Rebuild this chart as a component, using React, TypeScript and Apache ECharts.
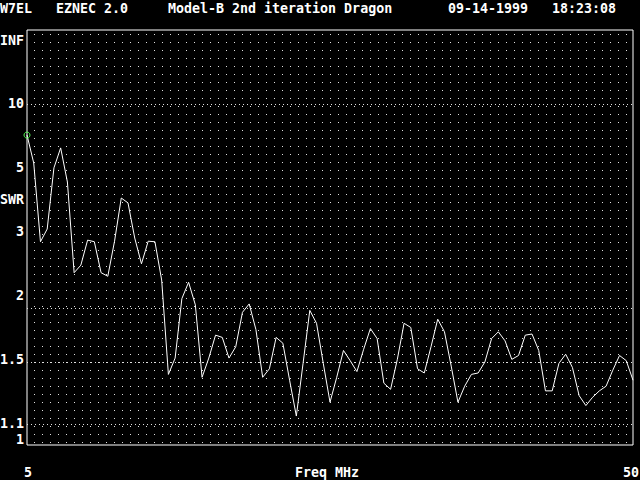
import React, { useEffect, useRef } from "react";
import * as echarts from "echarts";

// Frequency samples (MHz)
const freqs = [
  5, 5.5, 6, 6.5, 7, 7.5, 8, 8.5, 9, 9.5,
  10, 10.5, 11, 11.5, 12, 12.5, 13, 13.5, 14, 14.5,
  15, 15.5, 16, 16.5, 17, 17.5, 18, 18.5, 19, 19.5,
  20, 20.5, 21, 21.5, 22, 22.5, 23, 23.5, 24, 24.5,
  25, 25.5, 26, 26.5, 27, 27.5, 28, 28.5, 29, 29.5,
  30, 30.5, 31, 31.5, 32, 32.5, 33, 33.5, 34, 34.5,
  35, 35.5, 36, 36.5, 37, 37.5, 38, 38.5, 39, 39.5,
  40, 40.5, 41, 41.5, 42, 42.5, 43, 43.5, 44, 44.5,
  45, 45.5, 46, 46.5, 47, 47.5, 48, 48.5, 49, 49.5,
  50,
];

// SWR
const swr = [
  6.90, 5.24, 2.92, 3.17, 5.02, 6.04, 4.46, 2.42, 2.53, 2.95,
  2.92, 2.42, 2.37, 2.93, 3.94, 3.80, 2.99, 2.55, 2.93, 2.92,
  2.32, 1.41, 1.53, 2.09, 2.29, 2.02, 1.39, 1.53, 1.72, 1.70,
  1.53, 1.62, 1.94, 2.03, 1.77, 1.39, 1.45, 1.70, 1.65, 1.37,
  1.15, 1.49, 1.96, 1.83, 1.49, 1.23, 1.39, 1.59, 1.51, 1.43,
  1.60, 1.78, 1.69, 1.35, 1.31, 1.52, 1.83, 1.79, 1.45, 1.42,
  1.62, 1.87, 1.75, 1.47, 1.23, 1.33, 1.41, 1.42, 1.50, 1.69,
  1.75, 1.67, 1.52, 1.55, 1.72, 1.73, 1.59, 1.30, 1.30, 1.49,
  1.56, 1.46, 1.27, 1.21, 1.26, 1.30, 1.33, 1.44, 1.55, 1.51,
  1.37,
];

const yTickLabels = ["INF", "10", "5", "3", "2", "1.5", "1.1", "1"];
const emphasisSWR = [10, 2, 1.5, 1.1];
const headerTexts = ["W7EL", "EZNEC 2.0", "Model-B 2nd iteration Dragon", "09-14-1999", "18:23:08"];
const xTickLabels = ["5", "50"];
const xAxisTitle = "Freq MHz";
const yAxisTitle = "SWR";

// SWR -> reflection coefficient (the plot's vertical scale)
const rho = (s: number) => (s - 1) / (s + 1);

export default function App() {
  const ref = useRef<HTMLDivElement>(null);

  useEffect(() => {
    if (!ref.current) return;
    const chart = echarts.init(ref.current, undefined, { renderer: "svg" });

    const font = {
      fontFamily: "DejaVu Sans Mono",
      fontSize: 13.3,
      fontWeight: "bold" as const,
      fill: "#ffffff",
    };
    const headerCols = [0, 7, 21, 56, 69];
    const yLabelRows = [40, 103.5, 167.5, 231, 295, 359, 423, 439];

    const graphics: any[] = [];
    headerTexts.forEach((t, i) => {
      graphics.push({
        type: "text",
        x: headerCols[i] * 8,
        y: 8,
        style: { ...font, text: t, align: "left", verticalAlign: "middle" },
      });
    });
    yTickLabels.forEach((t, i) => {
      graphics.push({
        type: "text",
        x: 24,
        y: yLabelRows[i],
        style: { ...font, text: t, align: "right", verticalAlign: "middle" },
      });
    });
    graphics.push({
      type: "text",
      x: 0,
      y: 199,
      style: { ...font, text: yAxisTitle, align: "left", verticalAlign: "middle" },
    });
    graphics.push({
      type: "text",
      x: 28,
      y: 472,
      style: { ...font, text: xTickLabels[0], align: "center", verticalAlign: "middle" },
    });
    graphics.push({
      type: "text",
      x: 639,
      y: 472,
      style: { ...font, text: xTickLabels[1], align: "right", verticalAlign: "middle" },
    });
    graphics.push({
      type: "text",
      x: 295,
      y: 472,
      style: { ...font, text: xAxisTitle, align: "left", verticalAlign: "middle" },
    });

    const lineData = freqs.map((f, i) => [f, rho(swr[i])]);

    chart.setOption({
      animation: false,
      backgroundColor: "#000000",
      grid: [
        {
          left: 27,
          top: 30,
          width: 606,
          height: 415,
          show: true,
          borderColor: "#ffffff",
          borderWidth: 1,
          backgroundColor: "transparent",
        },
        { left: 34, top: 30, width: 592, height: 415, show: false },
      ],
      xAxis: [
        {
          gridIndex: 0,
          type: "value",
          min: 5,
          max: 50,
          axisLine: { show: false },
          axisTick: { show: false },
          axisLabel: { show: false },
          splitLine: { show: false },
        },
        {
          gridIndex: 1,
          type: "value",
          min: 0,
          max: 592,
          interval: 8,
          axisLine: { show: false },
          axisTick: { show: false },
          axisLabel: { show: false },
          splitLine: {
            show: true,
            lineStyle: { color: "#e0e0e0", width: 1, type: [1, 7], dashOffset: 4 },
          },
        },
      ],
      yAxis: [
        {
          gridIndex: 0,
          type: "value",
          min: 0,
          max: 1,
          axisLine: { show: false },
          axisTick: { show: false },
          axisLabel: { show: false },
          splitLine: { show: false },
        },
        {
          gridIndex: 1,
          type: "value",
          min: 0,
          max: 1,
          show: false,
        },
      ],
      graphic: graphics,
      series: [
        {
          type: "line",
          xAxisIndex: 0,
          yAxisIndex: 0,
          data: lineData,
          symbol: "none",
          lineStyle: { color: "#ffffff", width: 1 },
          silent: true,
          markLine: {
            silent: true,
            symbol: "none",
            label: { show: false },
            lineStyle: { color: "#e0e0e0", width: 1, type: [1, 3] },
            data: emphasisSWR.map((s) => ({ yAxis: rho(s) })),
          },
          z: 3,
        },
        {
          type: "scatter",
          xAxisIndex: 0,
          yAxisIndex: 0,
          data: [lineData[0]],
          symbol: "circle",
          symbolSize: 6,
          clip: false,
          itemStyle: { color: "transparent", borderColor: "#55ff55", borderWidth: 1, opacity: 1 },
          silent: true,
          z: 5,
        },
      ],
    });

    return () => chart.dispose();
  }, []);

  return (
    <div
      ref={ref}
      style={{ position: "fixed", left: 0, top: 0, width: 640, height: 480 }}
    />
  );
}
